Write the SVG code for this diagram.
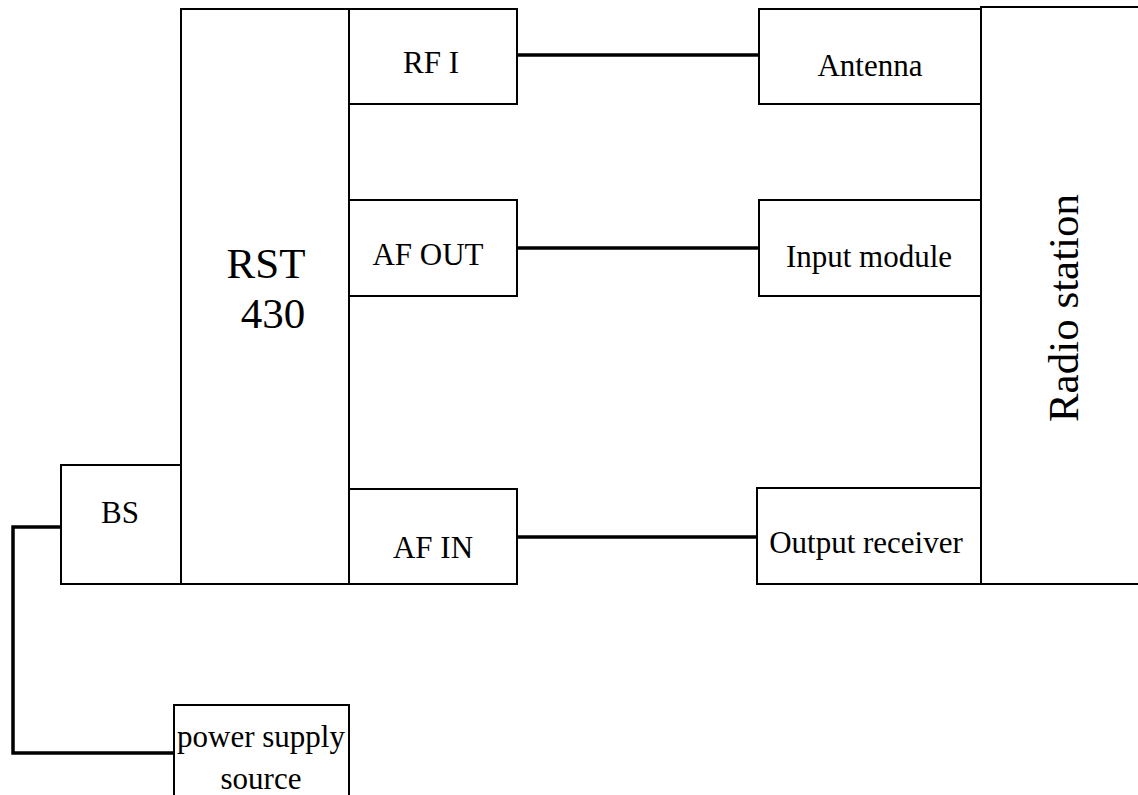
<svg xmlns="http://www.w3.org/2000/svg" width="1138" height="795" viewBox="0 0 1138 795">
<style>
.box{fill:#fff;stroke:#000;stroke-width:2}
.t{font-family:"Liberation Serif","DejaVu Serif",serif;font-size:31px;fill:#000;text-anchor:middle}
.big{font-size:43px}
.wire{fill:none;stroke:#000;stroke-width:3.5}
</style>
<rect width="1138" height="795" fill="#fff"/>
<g id="connectors">
<line class="wire" x1="517" y1="55" x2="758" y2="55"/>
<line class="wire" x1="517" y1="248" x2="758" y2="248"/>
<line class="wire" x1="517" y1="537" x2="757" y2="537"/>
<polyline class="wire" points="61,527 13,527 13,753 174,753"/>
</g>
<g id="rst430"><rect class="box" x="181" y="9" width="168" height="575"/><text class="t big" x="266" y="278">RST</text><text class="t big" x="273" y="328">430</text></g>
<g id="bs"><rect class="box" x="61" y="465" width="120" height="119"/><text class="t" x="120" y="523">BS</text></g>
<g id="rfi"><rect class="box" x="349" y="9" width="168" height="95"/><text class="t" x="431" y="73">RF I</text></g>
<g id="afout"><rect class="box" x="349" y="200" width="168" height="96"/><text class="t" x="428" y="265">AF OUT</text></g>
<g id="afin"><rect class="box" x="349" y="489" width="168" height="95"/><text class="t" x="433" y="558">AF IN</text></g>
<g id="antenna"><rect class="box" x="759" y="9" width="222" height="95"/><text class="t" x="870" y="76">Antenna</text></g>
<g id="input"><rect class="box" x="759" y="200" width="222" height="96"/><text class="t" x="869" y="267">Input module</text></g>
<g id="output"><rect class="box" x="757" y="488" width="224" height="96"/><text class="t" x="866" y="553">Output receiver</text></g>
<g id="radio"><rect class="box" x="981" y="7" width="160" height="577"/><text class="t big" transform="translate(1078,308) rotate(-90)">Radio station</text></g>
<g id="power"><rect class="box" x="174" y="705" width="175" height="100"/><text class="t" x="261" y="747">power supply</text><text class="t" x="261" y="789">source</text></g>
</svg>
